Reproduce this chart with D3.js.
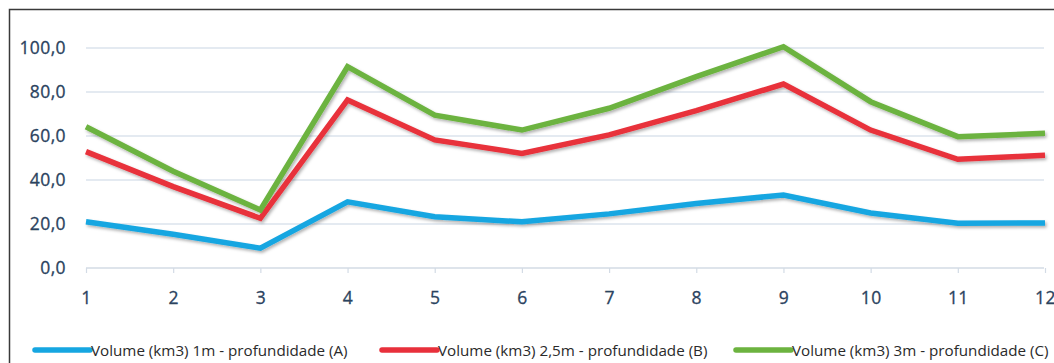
<!DOCTYPE html>
<html>
<head>
<meta charset="utf-8">
<script src="https://cdn.jsdelivr.net/npm/d3@7"></script>
<style>
  html, body { margin: 0; padding: 0; background: #ffffff; }
  svg { display: block; }
</style>
</head>
<body>
<svg id="chart" width="1054" height="363"></svg>
<script>
const categories = [1, 2, 3, 4, 5, 6, 7, 8, 9, 10, 11, 12];
const seriesA = [21.0, 15.3, 9.0, 30.1, 23.3, 21.0, 24.6, 29.3, 33.2, 25.0, 20.3, 20.5];
const seriesB = [52.9, 37.0, 22.6, 76.4, 58.2, 52.1, 60.5, 71.5, 83.6, 62.7, 49.4, 51.2];
const seriesC = [64.2, 44.0, 26.4, 91.5, 69.5, 62.7, 72.6, 87.0, 100.6, 75.6, 59.7, 61.2];
const seriesNames = [
  "Volume (km3) 1m - profundidade (A)",
  "Volume (km3) 2,5m - profundidade (B)",
  "Volume (km3) 3m - profundidade (C)"
];
const yTicks = [0, 20, 40, 60, 80, 100];
const colors = ["#16a6e1", "#e8303b", "#6cb33f"];

const svg = d3.select("#chart");
const W = 1054, H = 363;

// frame
svg.append("path")
  .attr("d", `M9.5,${H} L9.5,9.5 L${W},9.5`)
  .attr("fill", "none").attr("stroke", "#3a3a3a").attr("stroke-width", 1.5);

const x = d3.scalePoint().domain(categories).range([86, 1045]);
const y = d3.scaleLinear().domain([0, 100]).range([268, 48]);

const defs = svg.append("defs");
const f = defs.append("filter").attr("id", "shadow")
  .attr("x", "-5%").attr("y", "-20%").attr("width", "110%").attr("height", "140%");
f.append("feDropShadow").attr("dx", 1.5).attr("dy", 2).attr("stdDeviation", 1.5)
  .attr("flood-color", "#000").attr("flood-opacity", 0.3);

// gridlines
svg.append("g").selectAll("line").data(yTicks.filter(d => d > 0)).join("line")
  .attr("x1", 86).attr("x2", 1044)
  .attr("y1", d => y(d)).attr("y2", d => y(d))
  .attr("stroke", "#dbe3ec").attr("stroke-width", 1.5);

const tickFont = sel => sel
  .attr("font-family", "'Open Sans', sans-serif")
  .attr("font-size", 17.5).attr("fill", "#2b4360").attr("letter-spacing", 0.4)
  .attr("stroke", "#2b4360").attr("stroke-width", 0.3);

// y axis labels
const yAxis = d3.axisLeft(y).tickValues(yTicks).tickSize(0).tickPadding(0)
  .tickFormat(d => d3.format(".1f")(d).replace(".", ","));
const gy = svg.append("g").attr("transform", "translate(66,0)").call(yAxis);
gy.select(".domain").remove();
gy.selectAll("text").call(tickFont);

// x axis
const xAxis = d3.axisBottom(x).tickSize(5).tickPadding(19).tickSizeOuter(0);
const gx = svg.append("g").attr("transform", `translate(0,${y(0)})`).call(xAxis);
gx.select(".domain").attr("stroke", "#d3dbe5").attr("stroke-width", 1.5)
  .attr("d", `M86,0H1044`);
gx.selectAll(".tick line").attr("stroke", "#d3dbe5").attr("stroke-width", 1.2);
gx.selectAll("text").call(tickFont);

// lines
const line = d3.line().x((d, i) => x(categories[i])).y(d => y(d));
const allSeries = [seriesA, seriesB, seriesC];
svg.append("g").attr("filter", "url(#shadow)")
  .selectAll("path").data(allSeries).join("path")
  .attr("d", line)
  .attr("fill", "none")
  .attr("stroke", (d, i) => colors[i])
  .attr("stroke-width", 5.5)
  .attr("stroke-linejoin", "miter");

// legend
const legendX = [35, 382, 736];
const lg = svg.append("g");
seriesNames.forEach((name, i) => {
  lg.append("line")
    .attr("x1", legendX[i]).attr("x2", legendX[i] + 55)
    .attr("y1", 350).attr("y2", 350)
    .attr("stroke", colors[i]).attr("stroke-width", 5.5)
    .attr("stroke-linecap", "round");
  lg.append("text")
    .attr("x", legendX[i] + 56).attr("y", 355.5)
    .attr("font-family", "'Open Sans', sans-serif")
    .attr("font-size", 15.2).attr("fill", "#2a2a2a")
    .text(name);
});
</script>
</body>
</html>
